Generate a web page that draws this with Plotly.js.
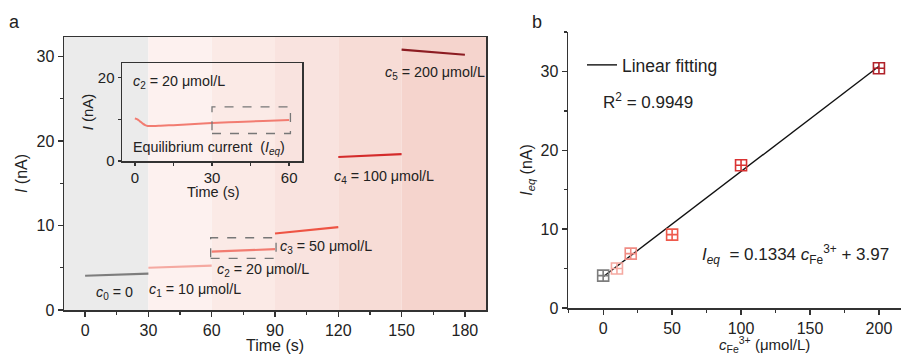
<!DOCTYPE html>
<html><head><meta charset="utf-8">
<script src="https://cdn.plot.ly/plotly-3.0.1.min.js"></script>
<style>html,body{margin:0;padding:0;background:#fff}#chart{width:902px;height:354px}</style>
</head><body><div id="chart"></div>
<script>
// ---- Panel a: current vs time for each concentration step ----
const segLabels = ["<i>c</i><sub>0</sub> = 0", "<i>c</i><sub>1</sub> = 10 μmol/L", "<i>c</i><sub>2</sub> = 20 μmol/L",
                   "<i>c</i><sub>3</sub> = 50 μmol/L", "<i>c</i><sub>4</sub> = 100 μmol/L", "<i>c</i><sub>5</sub> = 200 μmol/L"];
const segColors = ["#7d7d7d", "#f5a9a1", "#f27c71", "#ee5444", "#d42b2b", "#8c1c22"];
const segBg = ["#ebebeb", "#fdf1ef", "#fbeae6", "#f9e3df", "#f7dcd6", "#f5d4cd"];
const segBounds = [-10, 30, 60, 90, 120, 150, 190];
const segTime = [[0, 30], [30, 60], [60, 90], [90, 120], [120, 150], [150, 180]];
const segCurrent = [[4.05, 4.3], [5.0, 5.25], [6.9, 7.2], [9.05, 9.8], [18.1, 18.45], [30.8, 30.2]];

// ---- Inset: c2 = 20 μmol/L transient ----
const insetTime = [0, 1, 2, 3, 4, 5, 6, 8, 10, 15, 20, 30, 40, 50, 60];
const insetCurrent = [10.2, 10.0, 9.5, 9.0, 8.6, 8.4, 8.4, 8.4, 8.45, 8.6, 8.75, 9.1, 9.35, 9.6, 9.85];

// ---- Panel b: equilibrium current vs concentration ----
const conc = [0, 10, 20, 50, 100, 200];
const ieq = [4.1, 5.0, 6.9, 9.3, 18.1, 30.4];
const concColors = ["#7d7d7d", "#f5a9a1", "#f08c84", "#ee5a4c", "#d93333", "#b0222a"];
const fitX = [0, 200];
const fitY = [3.97, 30.65];

const txt = "#222";
const font = {family: "Liberation Sans, Arial, sans-serif", color: txt};
const traces = [];
segTime.forEach((t, i) => {
  traces.push({x: t, y: segCurrent[i], mode: "lines", xaxis: "x", yaxis: "y",
    line: {color: segColors[i], width: 2.2}, showlegend: false, hoverinfo: "skip"});
});
traces.push({x: insetTime, y: insetCurrent, mode: "lines", xaxis: "x3", yaxis: "y3",
  line: {color: "#f27c71", width: 2, shape: "spline"}, showlegend: false});
traces.push({x: fitX, y: fitY, mode: "lines", xaxis: "x2", yaxis: "y2", name: "Linear fitting",
  line: {color: "#111", width: 1.4}, showlegend: true});
traces.push({x: conc, y: ieq, mode: "markers", xaxis: "x2", yaxis: "y2", showlegend: false,
  marker: {symbol: "square-cross-open", size: 11, color: concColors, line: {width: 1.6, color: concColors}}});

const shapes = [];
segBg.forEach((c, i) => {
  shapes.push({type: "rect", xref: "x", yref: "y", x0: segBounds[i], x1: segBounds[i + 1], y0: 0, y1: 32.3,
    fillcolor: c, line: {width: 0}, layer: "below"});
});
// dashed highlight boxes
shapes.push({type: "rect", xref: "x", yref: "y", x0: 59.5, x1: 90.5, y0: 6.1, y1: 8.55,
  line: {color: "#777", width: 1.3, dash: "dash"}});
shapes.push({type: "rect", xref: "x3", yref: "y3", x0: 30, x1: 60.5, y0: 6.6, y1: 13,
  line: {color: "#777", width: 1.3, dash: "dash"}});

const axBase = {showline: true, linecolor: "#333", linewidth: 1.5, ticks: "outside", ticklen: 5, tickwidth: 1.3,
  tickcolor: "#333", showgrid: false, zeroline: false, mirror: true, tickfont: {...font, size: 16}};

const W = 902, H = 354;
const px = (a, b) => [a / W, b / W];
const py = (top, bot) => [1 - bot / H, 1 - top / H];
const ann = (text, x, y, xref, yref, size, xanchor) => ({text, x, y, xref, yref, xanchor: xanchor || "left",
  yanchor: "middle", showarrow: false, font: {...font, size}});

const annotations = [
  ann("a", 15 / W, 1 - 22 / H, "paper", "paper", 18, "center"),
  ann("b", 537 / W, 1 - 22 / H, "paper", "paper", 18, "center"),
  ann(segLabels[0], 4, 2.0, "x", "y", 14.3),
  ann(segLabels[1], 29.5, 2.35, "x", "y", 14.3),
  ann(segLabels[2], 61.5, 4.7, "x", "y", 14.3),
  ann(segLabels[3], 91.5, 7.45, "x", "y", 14.3),
  ann(segLabels[4], 117, 15.7, "x", "y", 14.3),
  ann(segLabels[5], 141, 28.0, "x", "y", 14.3),
  ann("<i>c</i><sub>2</sub> = 20 μmol/L", -1.5, 19.0, "x3", "y3", 14.3),
  ann("Equilibrium current  (<i>I</i><sub><i>eq</i></sub>)", -1.5, 3.0, "x3", "y3", 14.3),
  ann("Time (s)", 213 / W, 1 - 192 / H, "paper", "paper", 14.5, "center"),
  ann("<i>c</i><sub>Fe</sub><sup>3+</sup> (μmol/L)", 764 / W, 1 - 344 / H, "paper", "paper", 15, "center"),
  ann("R<sup>2</sup> = 0.9949", 601 / W, 1 - 101 / H, "paper", "paper", 17),
  ann("<i>I</i><sub><i>eq</i></sub>  = 0.1334 <i>c</i><sub>Fe</sub><sup>3+</sup> + 3.97", 700 / W, 1 - 254 / H, "paper", "paper", 17)
];

const layout = {
  width: W, height: H, margin: {l: 0, r: 0, t: 0, b: 0},
  paper_bgcolor: "#fff", plot_bgcolor: "rgba(0,0,0,0)", font: font,
  xaxis: {...axBase, domain: px(64, 486), range: [-10, 190], anchor: "y", tickvals: [0, 30, 60, 90, 120, 150, 180],
    minor: {dtick: 15, tick0: 15, ticklen: 3, ticks: "outside", tickcolor: "#333"},
    title: {text: "Time (s)", font: {...font, size: 16}, standoff: 2}},
  yaxis: {...axBase, domain: py(37, 310), range: [0, 32.3], anchor: "x", tickvals: [0, 10, 20, 30],
    minor: {dtick: 5, ticklen: 3, ticks: "outside", tickcolor: "#333"},
    title: {text: "<i>I</i> (nA)", font: {...font, size: 16}, standoff: 5}},
  xaxis2: {...axBase, mirror: false, domain: px(568, 901), range: [-25.5, 216], anchor: "y2", tickvals: [0, 50, 100, 150, 200],
    minor: {dtick: 25, ticklen: 3, ticks: "outside", tickcolor: "#333"}},
  yaxis2: {...axBase, mirror: false, domain: py(32, 308), range: [0, 35], anchor: "x2", tickvals: [0, 10, 20, 30],
    minor: {dtick: 5, ticklen: 3, ticks: "outside", tickcolor: "#333"},
    title: {text: "<i>I</i><sub><i>eq</i></sub> (nA)", font: {...font, size: 16}, standoff: 4}},
  xaxis3: {...axBase, domain: px(122, 302), range: [-5, 65], anchor: "y3", tickvals: [0, 30, 60],
    tickfont: {...font, size: 15}, ticklen: 2,
    minor: {dtick: 15, tick0: 15, ticklen: 3, ticks: "outside", tickcolor: "#333"}},
  yaxis3: {...axBase, domain: py(63, 161), range: [0, 23.5], anchor: "x3", tickvals: [0, 20],
    tickfont: {...font, size: 15}, ticklen: 3,
    minor: {dtick: 10, ticklen: 3, ticks: "outside", tickcolor: "#333"},
    title: {text: "<i>I</i> (nA)", font: {...font, size: 15}, standoff: 0}},
  shapes: shapes, annotations: annotations,
  showlegend: true,
  legend: {x: 582 / W, y: 1 - 47 / H, xanchor: "left", yanchor: "top", bgcolor: "rgba(0,0,0,0)",
    font: {...font, size: 17.5}, itemwidth: 30}
};
Plotly.newPlot("chart", traces, layout, {displayModeBar: false, staticPlot: true});
</script></body></html>
